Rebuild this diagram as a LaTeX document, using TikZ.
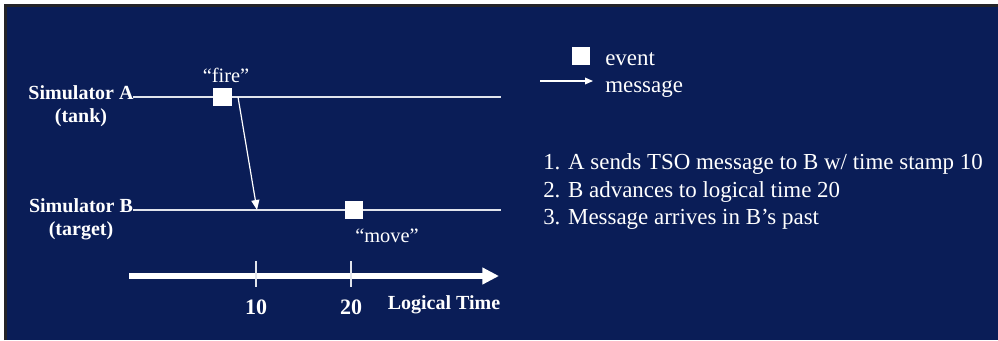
\documentclass[tikz,border=0pt]{standalone}
\usepackage{fontspec}
\setmainfont{Liberation Serif}
\usetikzlibrary{arrows.meta}
\definecolor{navy}{RGB}{10,29,87}
\definecolor{edge}{RGB}{35,35,40}
\definecolor{lineW}{RGB}{225,228,236}
\tikzset{
  txt/.style={text=white,inner sep=0pt,anchor=base,font=\fontsize{15.3}{18.5}\selectfont},
  ltxt/.style={txt,anchor=base west,font=\fontsize{17.2}{20}\selectfont},
  btxt/.style={txt,font=\fontsize{15}{18.5}\selectfont\bfseries},
  ntxt/.style={txt,font=\fontsize{16.5}{19}\selectfont\bfseries},
  evt/.style={fill=white,draw=none,minimum size=14pt,inner sep=0pt},
  tline/.style={draw=lineW,line width=1.1pt},
  msg/.style={draw=white,line width=0.9pt,-{Triangle[length=7.5pt,width=6pt]}},
  tick/.style={draw=lineW,line width=0.9pt},
  axis/.style={draw=white,line width=4.5pt,-{Triangle[length=12.5pt,width=12pt]}}
}
\begin{document}
\begin{tikzpicture}[x=0.75pt,y=-0.75pt]
\useasboundingbox (0,0) rectangle (998,340);
\fill[white] (0,0) rectangle (998,340);
\fill[navy] (5,5) rectangle (998,340);
\draw[edge,line width=1.6pt] (5.5,340) -- (5.5,5.5) -- (998,5.5);
% time lines
\coordinate (a0) at (133,97);
\coordinate (a1) at (501,97);
\coordinate (b0) at (133,210);
\coordinate (b1) at (501,210);
\draw[tline] (a0) -- (a1);
\draw[tline] (b0) -- (b1);
\node[btxt] (simA) at (81,99) {Simulator A};
\node[btxt] (simAs) at (81,122) {(tank)};
\node[btxt] (simB) at (81,212) {Simulator B};
\node[btxt] (simBs) at (81,235) {(target)};
% events
\node[evt] (evA) at (222.5,97) {};
\node[evt] (evB) at (354,210) {};
\node[txt] (fire) at (226,82.5) {“fire”};
\node[txt] (move) at (387,242) {“move”};
% message
\coordinate (m0) at (238,97);
\coordinate (m1) at (257,210);
\draw[msg] (m0) -- (m1);
% axis
\coordinate (t0) at (129,276);
\coordinate (t1) at (499,276);
\draw[axis] (t0) -- (t1);
\coordinate (k1a) at (256,261);
\coordinate (k1b) at (256,287);
\coordinate (k2a) at (351,261);
\coordinate (k2b) at (351,287);
\draw[tick] (k1a) -- (k1b);
\draw[tick] (k2a) -- (k2b);
\node[ntxt] (n10) at (256,314) {10};
\node[ntxt] (n20) at (351,314) {20};
\node[btxt] (lt) at (444,309) {Logical Time};
% legend
\node[evt,minimum size=13.5pt] (legE) at (581,56) {};
\node[ltxt] (legEt) at (605,65) {event};
\coordinate (l0) at (540,81);
\coordinate (l1) at (593,81);
\draw[msg,-{Triangle[length=6pt,width=5pt]}] (l0) -- (l1);
\node[ltxt] (legMt) at (605,92) {message};
% list
\node[ltxt] (i1) at (543,169) {1. A sends TSO message to B w/ time stamp 10};
\node[ltxt] (i2) at (543,197) {2. B advances to logical time 20};
\node[ltxt] (i3) at (543,224) {3. Message arrives in B’s past};
\end{tikzpicture}
\end{document}
